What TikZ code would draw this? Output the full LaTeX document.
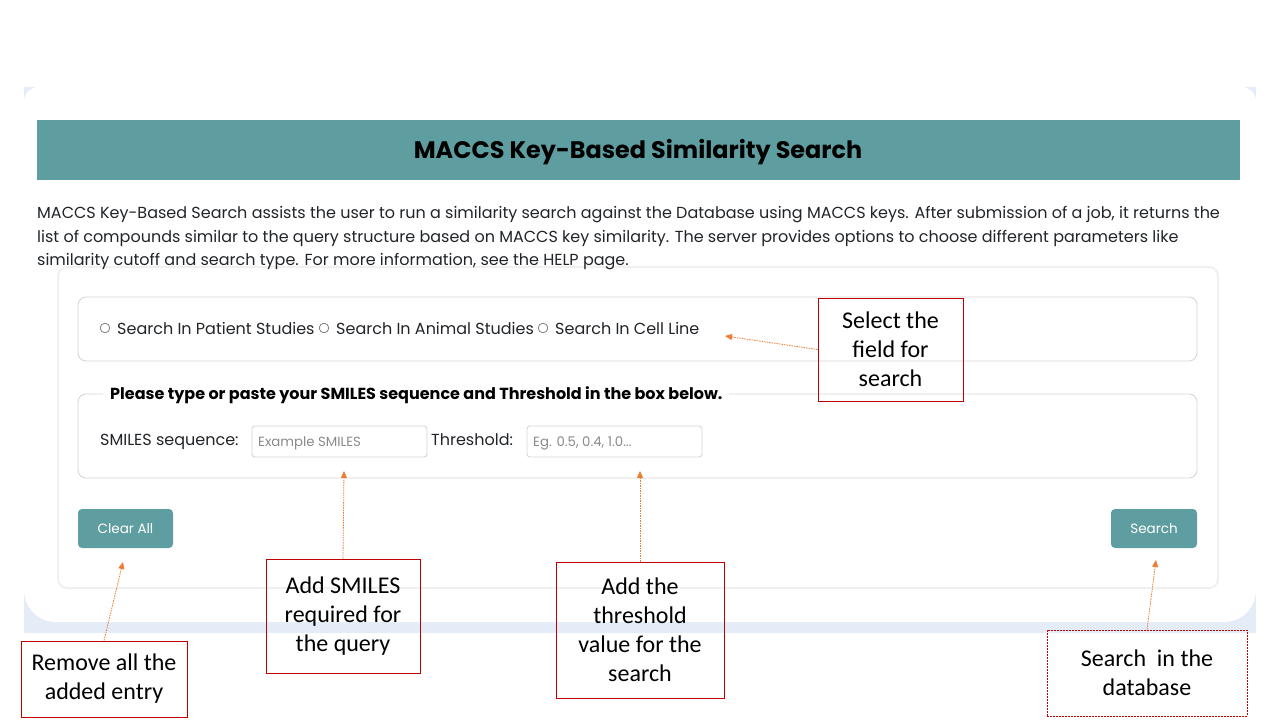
\documentclass[tikz,border=0pt]{standalone}
\usepackage{fontspec}
\newfontfamily\popf{Poppins}
\newfontfamily\calf{Carlito}
\usetikzlibrary{arrows.meta}
\definecolor{tealc}{HTML}{5F9EA0}
\definecolor{bgblue}{HTML}{E4ECF7}
\definecolor{annred}{HTML}{C00000}
\definecolor{arrorange}{HTML}{ED7D31}
\definecolor{bordgray}{HTML}{D6D6D6}
\definecolor{phgray}{HTML}{8A8A8A}
\definecolor{txtc}{HTML}{212529}
\tikzset{
  annbox/.style={draw=annred, line width=0.9pt, align=center, inner sep=0pt,
    font=\calf\fontsize{24}{29}\selectfont, text=black},
  annarrow/.style={draw=arrorange, line width=0.8pt, dash pattern=on 1.5pt off 1pt,
    -{Triangle[length=7pt,width=6pt]}},
  panel/.style={draw=bordgray, line width=0.9pt, rounded corners=8pt, fill=white},
  inputbox/.style={draw=bordgray, line width=0.9pt, rounded corners=3pt, fill=white,
    minimum width=175pt, minimum height=31pt, inner sep=0pt},
  button/.style={fill=tealc, rounded corners=4pt, text=white, inner sep=0pt,
    font=\popf\fontsize{13.5}{16}\selectfont},
  uitext/.style={font=\popf\fontsize{16}{19}\selectfont, text=txtc, inner sep=0pt},
  placeholder/.style={anchor=base west, inner sep=0pt, font=\popf\fontsize{13.3}{15}\selectfont, text=phgray},
}
\begin{document}
\begin{tikzpicture}[x=1pt,y=-1pt]
\useasboundingbox (0,0) rectangle (1280,720);
\fill[white] (0,0) rectangle (1280,720);
% page background card
\fill[bgblue] (24,87) rectangle (1256,633);
\fill[white, rounded corners=14pt] (24,87) rectangle (1256,300);
\fill[white, rounded corners=32pt] (24,200) rectangle (1256,622);
% header
\fill[tealc] (37,120) rectangle (1240,180);
\node[font=\popf\bfseries\fontsize{23.9}{28}\selectfont, text=black, inner sep=0pt, anchor=base] (title) at (638,158) {MACCS Key-Based Similarity Search};
% inner card
\draw[black!6, line width=2pt, rounded corners=9pt, fill=white] (58,267) rectangle (1218,588);
% paragraph
\node[uitext, anchor=base west] (para1) at (37,218) {MACCS Key-Based Search assists the user to run a similarity search against the Database using MACCS keys. After submission of a job, it returns the};
\node[uitext, anchor=base west] (para2) at (37,242) {list of compounds similar to the query structure based on MACCS key similarity. The server provides options to choose different parameters like};
\node[uitext, anchor=base west] (para3) at (37,265) {similarity cutoff and search type. For more information, see the HELP page.};
% radio panel
\draw[panel] (78,297) rectangle (1197,361);
\draw[black!55, line width=0.7pt] (105,328) circle (4.8pt);
\node[uitext, anchor=base west] (r1) at (117,334) {Search In Patient Studies};
\draw[black!55, line width=0.7pt] (324,328) circle (4.8pt);
\node[uitext, anchor=base west] (r2) at (336,334) {Search In Animal Studies};
\draw[black!55, line width=0.7pt] (543,328) circle (4.8pt);
\node[uitext, anchor=base west] (r3) at (555,334) {Search In Cell Line};
% fieldset
\draw[panel] (78,394) rectangle (1197,478);
\node[fill=white, inner xsep=7pt, inner ysep=2pt, anchor=base west, font=\popf\bfseries\fontsize{16}{19}\selectfont, text=black] (legend) at (103,399.5) {Please type or paste your SMILES sequence and Threshold in the box below.};
\node[uitext, anchor=base west] (smlab) at (100,445.5) {SMILES sequence:};
\node[inputbox] (sminput) at (339.5,441.5) {};
\node[placeholder] (smph) at (258,446) {Example SMILES};
\node[uitext, anchor=base west] (thlab) at (431,445.5) {Threshold:};
\node[inputbox] (thinput) at (614.5,441.5) {};
\node[placeholder] (thph) at (533,446) {Eg. 0.5, 0.4, 1.0...};
% buttons
\node[button, minimum width=95pt, minimum height=39pt] (clear) at (125.5,528.5) {Clear All};
\node[button, minimum width=86pt, minimum height=39pt] (search) at (1154,528.5) {Search};
% annotations
\node[annbox, minimum width=145pt, minimum height=103pt] (selbox) at (890.5,349.5) {Select the\\field for\\search};
\node[annbox, minimum width=154pt, minimum height=114pt] (smbox) at (343,616) {Add SMILES\\required for\\the query};
\node[annbox, minimum width=168pt, minimum height=136pt] (thbox) at (640,630) {Add the\\threshold\\value for the\\search};
\node[annbox, minimum width=166pt, minimum height=76pt] (rmbox) at (104,679) {Remove all the\\added entry};
\node[annbox, dash pattern=on 2pt off 1pt, minimum width=200pt, minimum height=86pt] (sebox) at (1147,673) {Search\ \ in the\\database};
% arrow targets
\coordinate (selT) at (725,336);
\coordinate (smT) at (344,471);
\coordinate (thT) at (640,471);
\coordinate (rmT) at (123,562);
\coordinate (seT) at (1156,560);
\draw[annarrow] (selbox.west) -- (selT);
\draw[annarrow] (smbox.north) -- (smT);
\draw[annarrow] (thbox.north) -- (thT);
\draw[annarrow] (rmbox.north) -- (rmT);
\draw[annarrow] (sebox.north) -- (seT);
\end{tikzpicture}
\end{document}
